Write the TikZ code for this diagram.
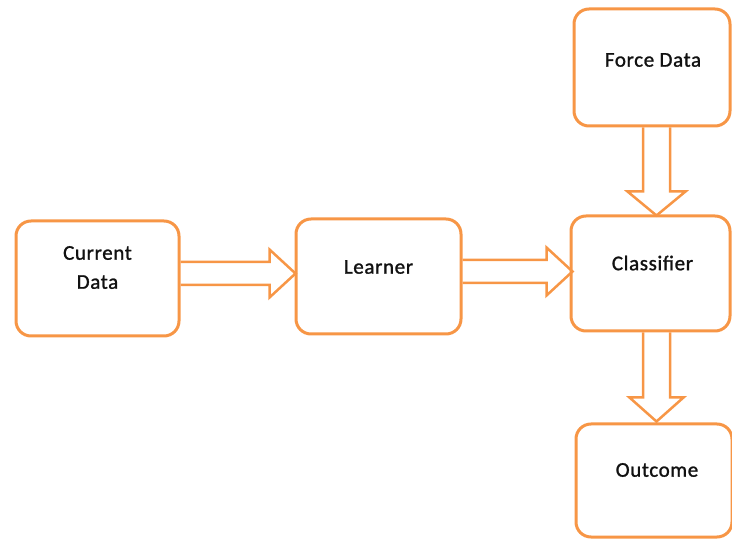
\documentclass[tikz,border=0pt]{standalone}
\usepackage{fontspec}
\setmainfont[LetterSpace=3,FakeBold=1.2]{Carlito}
\usepackage{tikz}
\usetikzlibrary{calc}

\definecolor{boxorange}{HTML}{F79646}
\definecolor{boxtext}{HTML}{111111}

\tikzset{
  box/.style={draw=boxorange, line width=3pt, rounded corners=15pt, fill=white, inner sep=0pt},
  boxlabel/.style={text=boxtext, align=center, font=\fontsize{21}{29}\selectfont},
  arrline/.style={draw=boxorange, line width=2.5pt, line join=miter}
}

% hollow block arrows: start, end, shaft half width, head half width, head length
\newcommand{\rightblock}[5]{\draw[arrline] let \p1=(#1), \p2=(#2) in
  (\x1,\y1+#3) -- (\x2-#5,\y1+#3) -- (\x2-#5,\y1+#4) -- (\x2,\y1)
  -- (\x2-#5,\y1-#4) -- (\x2-#5,\y1-#3) -- (\x1,\y1-#3);}
\newcommand{\downblock}[5]{\draw[arrline] let \p1=(#1), \p2=(#2) in
  (\x1-#3,\y1) -- (\x1-#3,\y2+#5) -- (\x1-#4,\y2+#5) -- (\x1,\y2)
  -- (\x1+#4,\y2+#5) -- (\x1+#3,\y2+#5) -- (\x1+#3,\y1);}

\begin{document}
\begin{tikzpicture}[x=1pt, y=-1pt]
  \useasboundingbox (0,0) rectangle (732,540);
  % boxes
  \node[box, minimum width=163pt, minimum height=115pt] (cur) at (97.5,278.5) {};
  \node[box, minimum width=165pt, minimum height=115pt] (lrn) at (378.5,276.5) {};
  \node[box, minimum width=159pt, minimum height=115pt] (cls) at (650.5,273.5) {};
  \node[box, minimum width=156pt, minimum height=117pt] (frc) at (652,67.5) {};
  \node[box, minimum width=156pt, minimum height=113pt] (out) at (654,480.5) {};
  \node[boxlabel] (curtxt) at ($(cur)+(0,-11)$) {Current\\Data};
  \node[boxlabel] (lrntxt) at ($(lrn)+(0,-9.5)$) {Learner};
  \node[boxlabel] (clstxt) at ($(cls)+(2,-10.5)$) {Classifier};
  \node[boxlabel] (frctxt) at ($(frc)+(1,-7.5)$) {Force Data};
  \node[boxlabel] (outtxt) at ($(out)+(3,-10.5)$) {Outcome};
  % arrows
  \rightblock{$(cur.east)+(0,-5)$}{$(lrn.west)+(1,0)$}{11.5pt}{24pt}{26pt}
  \rightblock{$(lrn.east)+(0,-5)$}{$(cls.west)+(3,0)$}{11.5pt}{24pt}{26pt}
  \downblock{$(frc.south)+(4.5,0)$}{$(cls.north)+(0,1)$}{13.5pt}{29pt}{24pt}
  \downblock{$(cls.south)+(6,0)$}{$(out.north)+(0,-1)$}{13.5pt}{27pt}{24pt}
\end{tikzpicture}
\end{document}
